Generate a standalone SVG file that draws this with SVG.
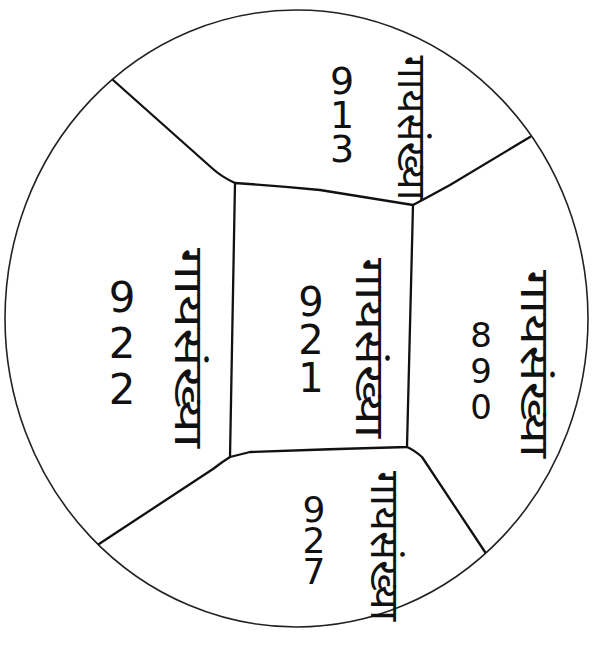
<svg xmlns="http://www.w3.org/2000/svg" width="596" height="651" viewBox="0 0 596 651">
<style>
.ln{fill:none;stroke:#111;stroke-width:2.3;stroke-linecap:round;stroke-linejoin:round}
.rim{fill:none;stroke:#222;stroke-width:1.6}
.w{font-family:"Noto Sans Devanagari","Noto Sans","Lohit Devanagari","FreeSans",sans-serif;font-size:40px;fill:#111;text-anchor:middle}
.n{font-family:"DejaVu Sans","Noto Sans",sans-serif;fill:#111;text-anchor:middle;writing-mode:vertical-rl;text-orientation:upright}
</style>
<rect width="596" height="651" fill="#fff"/>
<ellipse id="outer" class="rim" cx="296.5" cy="318.5" rx="291.5" ry="308.5"/>
<g id="connectors">
<path class="ln" d="M235,183 Q222,177 213,169 L113,80"/>
<path class="ln" d="M413,205 Q430,196 450,185 L530,137"/>
<path class="ln" d="M407,447 Q414,450 422,457 L485,552"/>
<path class="ln" d="M230,457 Q222,462 213,469 L99,544"/>
</g>
<g id="center">
<path class="ln" d="M235,183 Q280,186 320,190 Q370,198 413,205 L407,447 Q330,449 250,452 L230,457 Z"/>
<text class="w" transform="translate(356,348) rotate(90)" textLength="180" lengthAdjust="spacingAndGlyphs">गायसंख्या</text>
<text class="n" x="311" y="336" style="font-size:40px;letter-spacing:-8px">921</text>
</g>
<g id="top">
<text class="w" transform="translate(398,128) rotate(90)" textLength="145" lengthAdjust="spacingAndGlyphs">गायसंख्या</text>
<text class="n" x="342" y="110" style="font-size:38px;letter-spacing:-10px">913</text>
</g>
<g id="right">
<text class="w" transform="translate(521,364) rotate(90)" textLength="188" lengthAdjust="spacingAndGlyphs">गायसंख्या</text>
<text class="n" x="481" y="369" style="font-size:34px;letter-spacing:-4px">890</text>
</g>
<g id="left">
<text class="w" transform="translate(175,348) rotate(90)" textLength="200" lengthAdjust="spacingAndGlyphs">गायसंख्या</text>
<text class="n" x="122" y="342" style="font-size:42px;letter-spacing:-3px">922</text>
</g>
<g id="bottom">
<text class="w" transform="translate(371,546) rotate(90)" textLength="150" lengthAdjust="spacingAndGlyphs">गायसंख्या</text>
<text class="n" x="314" y="535" style="font-size:36px;letter-spacing:-10px">927</text>
</g>
</svg>
